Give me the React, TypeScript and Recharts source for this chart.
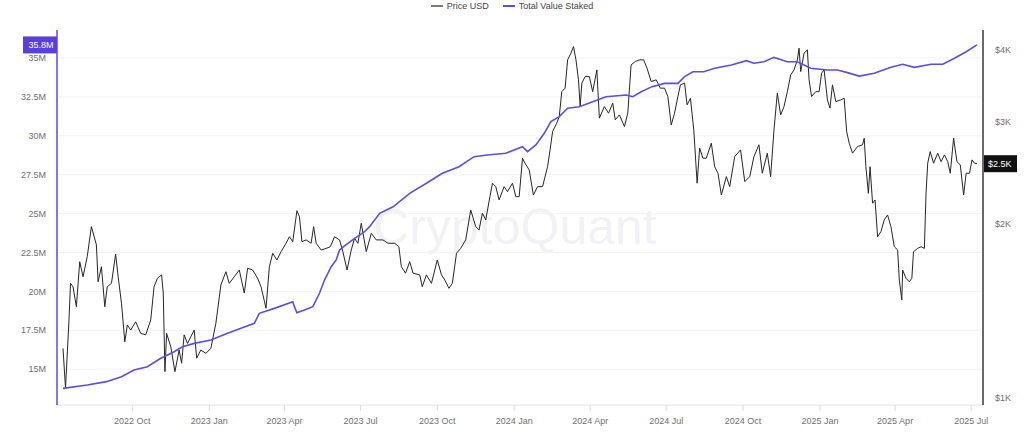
import React from "react";
import { LineChart, Line, XAxis, YAxis, Legend, ReferenceLine } from "recharts";

// ETH price (USD)
const priceDates = [
  "2022-07-10", "2022-07-13", "2022-07-17", "2022-07-19", "2022-07-22", "2022-07-26", "2022-07-30", "2022-08-03",
  "2022-08-08", "2022-08-13", "2022-08-19", "2022-08-21", "2022-08-25", "2022-08-29", "2022-09-01", "2022-09-06",
  "2022-09-11", "2022-09-14", "2022-09-18", "2022-09-22", "2022-09-25", "2022-09-29", "2022-10-05", "2022-10-11",
  "2022-10-17", "2022-10-23", "2022-10-27", "2022-10-31", "2022-11-05", "2022-11-07", "2022-11-09", "2022-11-11",
  "2022-11-16", "2022-11-21", "2022-11-26", "2022-11-29", "2022-12-02", "2022-12-06", "2022-12-14", "2022-12-17",
  "2022-12-22", "2022-12-28", "2023-01-03", "2023-01-09", "2023-01-15", "2023-01-21", "2023-01-25", "2023-01-31",
  "2023-02-06", "2023-02-12", "2023-02-16", "2023-02-22", "2023-02-28", "2023-03-04", "2023-03-10", "2023-03-14",
  "2023-03-18", "2023-03-23", "2023-03-28", "2023-04-03", "2023-04-07", "2023-04-11", "2023-04-16", "2023-04-19",
  "2023-04-22", "2023-04-27", "2023-05-03", "2023-05-06", "2023-05-09", "2023-05-15", "2023-05-21", "2023-05-26",
  "2023-05-31", "2023-06-06", "2023-06-10", "2023-06-15", "2023-06-20", "2023-06-24", "2023-06-28", "2023-07-02",
  "2023-07-08", "2023-07-14", "2023-07-20", "2023-07-28", "2023-08-03", "2023-08-11", "2023-08-16", "2023-08-19",
  "2023-08-24", "2023-08-29", "2023-09-02", "2023-09-10", "2023-09-13", "2023-09-18", "2023-09-24", "2023-10-01",
  "2023-10-06", "2023-10-10", "2023-10-15", "2023-10-19", "2023-10-24", "2023-10-29", "2023-11-04", "2023-11-10",
  "2023-11-16", "2023-11-20", "2023-11-24", "2023-11-28", "2023-12-03", "2023-12-06", "2023-12-10", "2023-12-14",
  "2023-12-20", "2023-12-24", "2023-12-30", "2024-01-03", "2024-01-07", "2024-01-11", "2024-01-14", "2024-01-19",
  "2024-01-24", "2024-01-29", "2024-02-04", "2024-02-10", "2024-02-13", "2024-02-16", "2024-02-21", "2024-02-24",
  "2024-02-27", "2024-03-02", "2024-03-05", "2024-03-09", "2024-03-12", "2024-03-15", "2024-03-18", "2024-03-20",
  "2024-03-22", "2024-03-26", "2024-03-31", "2024-04-04", "2024-04-09", "2024-04-12", "2024-04-18", "2024-04-23",
  "2024-04-28", "2024-05-01", "2024-05-06", "2024-05-12", "2024-05-16", "2024-05-20", "2024-05-25", "2024-05-30",
  "2024-06-04", "2024-06-08", "2024-06-13", "2024-06-19", "2024-06-24", "2024-06-29", "2024-07-03", "2024-07-07",
  "2024-07-11", "2024-07-15", "2024-07-18", "2024-07-23", "2024-07-26", "2024-07-30", "2024-08-03", "2024-08-06",
  "2024-08-07", "2024-08-10", "2024-08-14", "2024-08-18", "2024-08-24", "2024-08-28", "2024-09-01", "2024-09-05",
  "2024-09-11", "2024-09-15", "2024-09-21", "2024-09-28", "2024-10-03", "2024-10-09", "2024-10-14", "2024-10-20",
  "2024-10-24", "2024-10-30", "2024-11-03", "2024-11-07", "2024-11-11", "2024-11-15", "2024-11-19", "2024-11-23",
  "2024-11-27", "2024-12-01", "2024-12-05", "2024-12-07", "2024-12-09", "2024-12-13", "2024-12-17", "2024-12-19",
  "2024-12-22", "2024-12-27", "2024-12-31", "2025-01-03", "2025-01-06", "2025-01-10", "2025-01-13", "2025-01-16",
  "2025-01-20", "2025-01-26", "2025-01-30", "2025-02-02", "2025-02-05", "2025-02-09", "2025-02-15", "2025-02-21",
  "2025-02-23", "2025-02-25", "2025-02-28", "2025-03-02", "2025-03-05", "2025-03-08", "2025-03-11", "2025-03-15",
  "2025-03-19", "2025-03-23", "2025-03-27", "2025-03-31", "2025-04-04", "2025-04-06", "2025-04-09", "2025-04-10",
  "2025-04-14", "2025-04-18", "2025-04-21", "2025-04-23", "2025-04-28", "2025-05-02", "2025-05-06", "2025-05-08",
  "2025-05-10", "2025-05-13", "2025-05-17", "2025-05-22", "2025-05-26", "2025-05-30", "2025-06-03", "2025-06-06",
  "2025-06-10", "2025-06-14", "2025-06-18", "2025-06-22", "2025-06-25", "2025-06-29", "2025-07-02", "2025-07-05",
  "2025-07-08",
];
const priceUsd = [
  1216, 1037, 1346, 1576, 1554, 1436, 1718, 1618, 1753, 1976, 1837, 1586, 1684, 1436, 1555, 1576,
  1771, 1618, 1456, 1248, 1335, 1308, 1352, 1291, 1283, 1362, 1555, 1608, 1630, 1516, 1108, 1291,
  1224, 1108, 1208, 1146, 1283, 1240, 1308, 1169, 1208, 1192, 1216, 1344, 1566, 1651, 1576, 1618,
  1662, 1516, 1674, 1662, 1608, 1555, 1427, 1684, 1777, 1730, 1788, 1849, 1898, 1861, 2106, 2056,
  1861, 1874, 1849, 1976, 1849, 1800, 1812, 1824, 1898, 1874, 1788, 1662, 1800, 1886, 1849, 2003,
  1788, 1924, 1874, 1874, 1849, 1849, 1824, 1684, 1641, 1718, 1641, 1630, 1555, 1630, 1576, 1730,
  1630, 1597, 1545, 1576, 1777, 1812, 1874, 2112, 1976, 1950, 2085, 2030, 2227, 2350, 2318, 2198,
  2318, 2272, 2350, 2227, 2227, 2596, 2545, 2478, 2242, 2318, 2318, 2510, 2684, 2887, 2986, 3066,
  3386, 3433, 3844, 3948, 4053, 3844, 3549, 3190, 3503, 3596, 3596, 3386, 3693, 3046, 3190, 3107,
  3234, 3026, 3086, 2946, 3107, 3768, 3818, 3844, 3844, 3719, 3526, 3549, 3433, 3433, 3320, 2965,
  3107, 3320, 3479, 3503, 3212, 3298, 2907, 2478, 2350, 2703, 2596, 2596, 2757, 2510, 2445, 2242,
  2412, 2318, 2613, 2684, 2365, 2412, 2613, 2739, 2445, 2649, 2412, 2907, 3365, 3086, 3190, 3386,
  3620, 3693, 3844, 4027, 3668, 3948, 4000, 3549, 3320, 3386, 3386, 3645, 3693, 3276, 3170, 3479,
  3254, 3276, 3298, 2887, 2757, 2649, 2720, 2739, 2812, 2510, 2257, 2510, 2170, 2198, 1898, 1937,
  2030, 2070, 1976, 1824, 1800, 1597, 1475, 1662, 1608, 1586, 1608, 1788, 1812, 1824, 1812, 2257,
  2545, 2666, 2545, 2649, 2561, 2631, 2561, 2445, 2812, 2561, 2528, 2242, 2445, 2445, 2579, 2545,
  2540,
];

// Total value staked, in millions
const stakedDates = [
  "2022-07-10", "2022-08-08", "2022-08-31", "2022-09-18", "2022-10-03", "2022-10-19", "2022-11-04", "2022-11-20",
  "2022-11-30", "2022-12-14", "2023-01-03", "2023-01-23", "2023-02-08", "2023-02-24", "2023-03-02", "2023-03-20",
  "2023-04-11", "2023-04-13", "2023-04-16", "2023-04-25", "2023-05-05", "2023-05-13", "2023-05-19", "2023-05-27",
  "2023-06-02", "2023-06-06", "2023-06-12", "2023-06-24", "2023-07-06", "2023-07-12", "2023-07-24", "2023-08-09",
  "2023-08-29", "2023-09-18", "2023-10-07", "2023-10-27", "2023-11-14", "2023-11-30", "2023-12-22", "2024-01-11",
  "2024-01-17", "2024-01-27", "2024-02-06", "2024-02-14", "2024-02-24", "2024-03-05", "2024-03-19", "2024-04-04",
  "2024-04-20", "2024-05-14", "2024-05-22", "2024-06-01", "2024-06-14", "2024-06-29", "2024-07-15", "2024-07-23",
  "2024-08-02", "2024-08-15", "2024-08-28", "2024-09-17", "2024-10-05", "2024-10-14", "2024-10-26", "2024-11-07",
  "2024-11-23", "2024-12-05", "2024-12-21", "2025-01-10", "2025-01-22", "2025-02-03", "2025-02-17", "2025-03-07",
  "2025-03-27", "2025-04-10", "2025-04-24", "2025-05-14", "2025-05-28", "2025-06-11", "2025-06-25", "2025-07-08",
];
const stakedMillions = [
  13.77, 13.98, 14.2, 14.52, 14.95, 15.16, 15.7, 16.12, 16.44, 16.66, 16.88, 17.31, 17.63, 17.95, 18.59, 18.91,
  19.34, 19.02, 18.63, 18.8, 19.02, 19.88, 20.73, 21.59, 22.02, 22.66, 22.92, 23.41, 23.84, 24.16, 25.02, 25.44,
  26.3, 26.95, 27.59, 28.01, 28.66, 28.77, 28.88, 29.3, 28.98, 29.41, 30.16, 30.91, 31.23, 31.77, 31.87, 32.19,
  32.51, 32.62, 32.51, 32.83, 33.16, 33.37, 33.37, 33.8, 34.12, 34.12, 34.34, 34.55, 34.83, 34.66, 34.76, 35.04,
  34.76, 34.76, 34.34, 34.23, 34.23, 34.06, 33.84, 34.02, 34.4, 34.6, 34.4, 34.6, 34.6, 34.98, 35.4, 35.84,
];

const stakedTicks = [15, 17.5, 20, 22.5, 25, 27.5, 30, 32.5, 35];
const priceTicks = [1000, 2000, 3000, 4000];
const quarterTicks = [
  "2022-10-01", "2023-01-01", "2023-04-01", "2023-07-01", "2023-10-01", "2024-01-01",
  "2024-04-01", "2024-07-01", "2024-10-01", "2025-01-01", "2025-04-01", "2025-07-01",
];
const monthNames = ["Jan", "Feb", "Mar", "Apr", "May", "Jun", "Jul", "Aug", "Sep", "Oct", "Nov", "Dec"];

const toTime = (d: string) => Date.parse(d);

const priceData = priceDates.map((d, i) => ({ t: toTime(d), price: priceUsd[i] }));
const stakedData = stakedDates.map((d, i) => ({ t: toTime(d), staked: stakedMillions[i] }));
const lastPrice = priceUsd[priceUsd.length - 1];
const lastStaked = stakedMillions[stakedMillions.length - 1];

const W = 1024;
const H = 432;
const PLOT_TOP = 30;
const PLOT_BOTTOM = 405;
const AXIS_L = 57;
const AXIS_R = 983;
const LEGEND_H = 12;

const FONT = "'Liberation Sans', Arial, sans-serif";
const PURPLE = "#5b4cf0";
const TICK_COLOR = "#6f6f6f";

function formatQuarter(t: number) {
  const d = new Date(t);
  return `${d.getUTCFullYear()} ${monthNames[d.getUTCMonth()]}`;
}

function StakedTick(props: any) {
  const { y, payload } = props;
  const v = payload.value;
  if (v === lastStaked) {
    return (
      <g>
        <rect x={AXIS_L - 34} y={y - 8.5} width={34} height={17} fill="#5a3fe0" />
        <text x={AXIS_L - 3.5} y={y} dy="0.35em" textAnchor="end" fill="#fff" fontSize={9}>
          {v.toFixed(1)}M
        </text>
      </g>
    );
  }
  return (
    <text x={AXIS_L - 11} y={y} dy="0.35em" textAnchor="end" fill={TICK_COLOR} fontSize={9}>
      {v}M
    </text>
  );
}

function PriceTick(props: any) {
  const { y, payload } = props;
  const v = payload.value;
  if (v === lastPrice) {
    return (
      <g>
        <rect x={AXIS_R + 1} y={y - 8.5} width={33} height={17} fill="#111" />
        <text x={AXIS_R + 5} y={y} dy="0.35em" textAnchor="start" fill="#fff" fontSize={9}>
          ${(v / 1000).toFixed(1)}K
        </text>
      </g>
    );
  }
  return (
    <text x={AXIS_R + 12} y={y} dy="0.35em" textAnchor="start" fill={TICK_COLOR} fontSize={9}>
      ${v / 1000}K
    </text>
  );
}

function LegendContent() {
  const item = (color: string, label: string) => (
    <span style={{ display: "flex", alignItems: "center", marginRight: 14 }}>
      <span style={{ display: "inline-block", width: 12, height: 2, background: color, marginRight: 4 }} />
      {label}
    </span>
  );
  return (
    <div
      style={{
        display: "flex",
        justifyContent: "center",
        height: LEGEND_H,
        lineHeight: `${LEGEND_H}px`,
        fontSize: 9,
        color: "#444",
        fontFamily: FONT,
        paddingLeft: 14,
      }}
    >
      {item("#7a7a7a", "Price USD")}
      {item(PURPLE, "Total Value Staked")}
    </div>
  );
}

export default function App() {
  return (
    <div style={{ position: "absolute", left: 0, top: 0, width: W, height: H, background: "#fff", fontFamily: FONT }}>
      {/* watermark sits behind the chart */}
      <div
        style={{
          position: "absolute",
          left: 0,
          top: 202,
          width: 1030,
          textAlign: "center",
          fontSize: 50,
          lineHeight: 1,
          fontWeight: 500,
          color: "#f2f2f6",
          fontFamily: FONT,
        }}
      >
        CryptoQuant
      </div>
      <div style={{ position: "absolute", left: 0, top: 0 }}>
        <LineChart
          width={W}
          height={H}
          margin={{ top: PLOT_TOP - LEGEND_H, right: 0, bottom: 0, left: 0 }}
          style={{ fontFamily: FONT }}
        >
          <Legend verticalAlign="top" align="center" height={LEGEND_H} content={<LegendContent />} wrapperStyle={{ top: 0 }} />
          <XAxis
            dataKey="t"
            type="number"
            domain={["dataMin", "dataMax"]}
            ticks={quarterTicks.map(toTime)}
            tickFormatter={formatQuarter}
            interval={0}
            padding={{ left: 6, right: 6 }}
            height={H - PLOT_BOTTOM}
            axisLine={{ stroke: "#e4e4e4" }}
            tickLine={{ stroke: "#dcdcdc" }}
            tickSize={6}
            tickMargin={7}
            tick={{ fill: TICK_COLOR, fontSize: 9 }}
          />
          <YAxis
            yAxisId="staked"
            orientation="left"
            type="number"
            width={AXIS_L}
            domain={[12.7, 36.8]}
            allowDataOverflow
            ticks={[...stakedTicks, lastStaked]}
            interval={0}
            tick={StakedTick}
            tickLine={false}
            axisLine={{ stroke: "#8577f4", strokeWidth: 2 }}
          />
          <YAxis
            yAxisId="price"
            orientation="right"
            type="number"
            scale="log"
            width={W - AXIS_R}
            domain={[970, 4330]}
            allowDataOverflow
            ticks={[...priceTicks, lastPrice]}
            interval={0}
            tick={PriceTick}
            tickLine={false}
            axisLine={{ stroke: "#6a6a6a", strokeWidth: 2 }}
          />
          {stakedTicks.map((v) => (
            <ReferenceLine key={v} yAxisId="staked" y={v} stroke="#f3f3f3" strokeWidth={1} />
          ))}
          <Line
            yAxisId="price"
            data={priceData}
            dataKey="price"
            name="Price USD"
            type="linear"
            stroke="#262626"
            strokeWidth={1}
            dot={false}
            isAnimationActive={false}
          />
          <Line
            yAxisId="staked"
            data={stakedData}
            dataKey="staked"
            name="Total Value Staked"
            type="linear"
            stroke={PURPLE}
            strokeWidth={1.6}
            dot={false}
            isAnimationActive={false}
          />
        </LineChart>
      </div>
    </div>
  );
}
